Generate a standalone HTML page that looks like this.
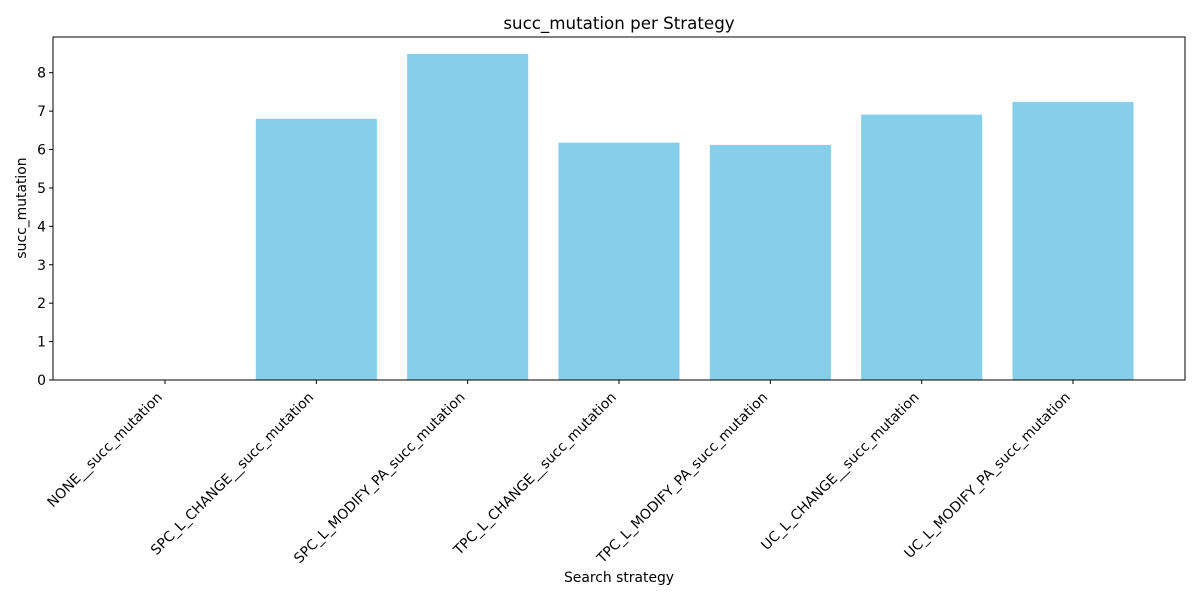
<!DOCTYPE html>
<html><head><meta charset="utf-8"><style>
html,body{margin:0;padding:0;background:#fff;}
svg text{font-family:"DejaVu Sans","Liberation Sans",sans-serif;fill:#000;}
</style></head><body>
<svg id="chart" width="1200" height="600" viewBox="0 0 1200 600" xmlns="http://www.w3.org/2000/svg">
<text x="619" y="29" font-size="16.7" text-anchor="middle">succ_mutation per Strategy</text>
<g id="plot"></g>
<text x="619" y="582" font-size="13.9" text-anchor="middle">Search strategy</text>
<text transform="translate(26,208) rotate(-90)" font-size="13.9" text-anchor="middle">succ_mutation</text>
</svg>
<script>
const categories = ["NONE__succ_mutation","SPC_L_CHANGE__succ_mutation","SPC_L_MODIFY_PA_succ_mutation","TPC_L_CHANGE__succ_mutation","TPC_L_MODIFY_PA_succ_mutation","UC_L_CHANGE__succ_mutation","UC_L_MODIFY_PA_succ_mutation"];
const values = [0, 6.80, 8.49, 6.18, 6.12, 6.91, 7.24];
const yTicks = [0,1,2,3,4,5,6,7,8];

const L=53,R=1185,T=37,B=380;
const xmin=-0.74,xmax=6.74,ymin=0,ymax=8.93;
const xs=v=>L+(v-xmin)/(xmax-xmin)*(R-L);
const ys=v=>B-(v-ymin)/(ymax-ymin)*(B-T);
const NS="http://www.w3.org/2000/svg";
const g=document.getElementById('plot');
function mk(t,a){const e=document.createElementNS(NS,t);for(const k in a)e.setAttribute(k,a[k]);g.appendChild(e);return e;}
const bw=(xs(0.4)-xs(-0.4));
values.forEach((v,i)=>{
  const r=mk('rect',{x:xs(i)-bw/2,y:ys(v),width:bw,height:ys(0)-ys(v),fill:'#87ceeb'});
  
  
});
const frame=mk('rect',{x:L,y:T,width:R-L,height:B-T,fill:'none',stroke:'#000','stroke-width':1});


yTicks.forEach(t=>{
  const y=ys(t);
  const tk=mk('line',{x1:L-4,x2:L,y1:y,y2:y,stroke:'#000'});
  
  
  const tx=mk('text',{x:L-7,y:y+5,'font-size':13.9,'text-anchor':'end'});
  tx.textContent=t;
  
  
});
categories.forEach((c,i)=>{
  const x=xs(i);
  const tk=mk('line',{x1:x,x2:x,y1:B,y2:B+4,stroke:'#000'});
  
  
  const tx=mk('text',{transform:`translate(${x-2},${B+18}) rotate(-45)`,'font-size':13.9,'text-anchor':'end'});
  tx.textContent=c;
  
  
});
</script>
</body></html>
